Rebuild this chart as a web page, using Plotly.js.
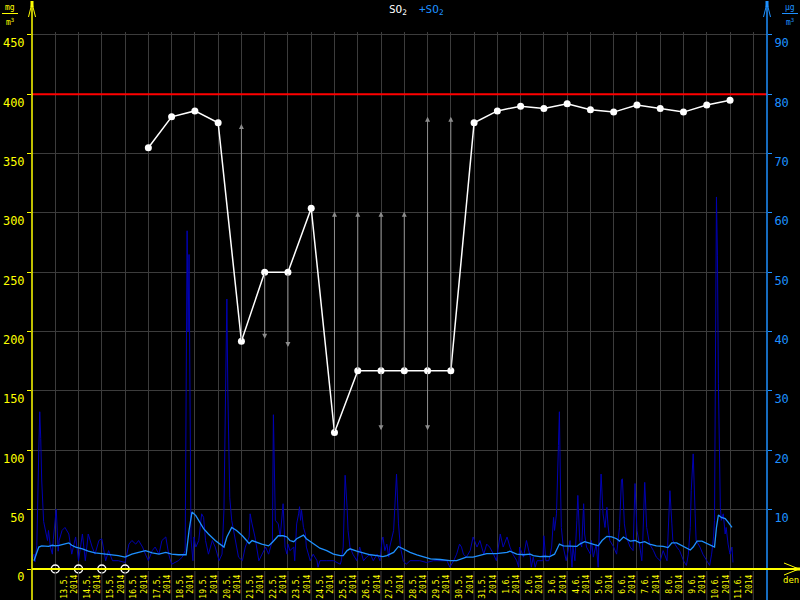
<!DOCTYPE html>
<html><head><meta charset="utf-8">
<script src="https://cdn.plot.ly/plotly-3.0.1.min.js"></script>
<style>body{margin:0;background:#000}</style>
</head><body><div id="chart" style="width:800px;height:600px"></div>
<script>
// ---- data ----
const dayDates = ['2014-05-13','2014-05-14','2014-05-15','2014-05-16','2014-05-17','2014-05-18','2014-05-19','2014-05-20','2014-05-21','2014-05-22','2014-05-23','2014-05-24','2014-05-25','2014-05-26','2014-05-27','2014-05-28','2014-05-29','2014-05-30','2014-05-31','2014-06-01','2014-06-02','2014-06-03','2014-06-04','2014-06-05','2014-06-06','2014-06-07','2014-06-08','2014-06-09','2014-06-10','2014-06-11'];
const dayLabels = ['13.5.','14.5.','15.5.','16.5.','17.5.','18.5.','19.5.','20.5.','21.5.','22.5.','23.5.','24.5.','25.5.','26.5.','27.5.','28.5.','29.5.','30.5.','31.5.','1.6.','2.6.','3.6.','4.6.','5.6.','6.6.','7.6.','8.6.','9.6.','10.6.','11.6.'];
const yearLabel = '2014';
const so2Daily = [null,null,null,null,355,381,386,376,192,250,250,304,115,167,167,167,167,167,376,386,390,388,392,387,385,391,388,385,391,395];
const so2High  = [null,null,null,null,null,null,null,null,375,null,null,null,301,301,301,301,381,381,null,null,null,null,null,null,null,null,null,null,null,null];
const so2Low   = [null,null,null,null,null,null,null,null,null,194,187,null,null,null,117,null,117,null,null,null,null,null,null,null,null,null,null,null,null,null];
const limitValue = 400;
const leftTicks = [0,50,100,150,200,250,300,350,400,450];
const rightTicks = [10,20,30,40,50,60,70,80,90];

// hourly SO2 (µg/m3), hours since 2014-05-12 00:00
const hourlyH = [0,2,3,5,7,8,9,10,12,14,16,17,19,21,22,25,27,28,31,34,38,41,45,48,52,55,58,62,65,69,72,76,79,83,89,96,100,103,107,110,114,117,120,124,127,131,134,138,141,144,148,151,155,158,160,161,162,163,164,166,167,169,172,175,177,179,182,186,189,193,196,198,200,201,202,204,206,210,213,217,220,224,225,227,230,234,237,241,244,248,249,251,254,256,259,261,263,264,266,270,271,273,275,276,277,278,280,282,283,285,287,290,294,295,297,304,311,318,319,321,323,325,326,328,331,335,338,342,345,349,352,356,359,361,362,364,366,368,369,373,374,376,378,380,383,386,390,400,407,414,421,428,431,435,438,441,443,445,448,452,455,459,462,466,469,472,476,479,483,486,490,493,496,500,502,503,507,510,514,515,517,519,521,524,527,528,530,533,534,536,538,539,541,543,544,545,546,548,551,555,557,558,560,562,563,565,567,569,570,572,576,577,579,582,584,586,587,589,591,593,594,596,600,603,606,608,609,611,613,617,620,622,624,627,629,630,632,634,637,641,644,648,651,655,658,660,661,665,668,672,675,677,679,680,682,684,685,689,692,696,699,701,703,704,705,706,707,708,710,711,713,715,716,718,720,722,723];
const hourlyV = [1.5,2.5,1.2,4,20,26.5,22,15,8,6.5,4.8,6.5,3.7,2.5,5,10.1,3,4.8,6.5,7,5.9,2.5,5.4,1.4,5.9,1.4,5.9,3.7,2.5,4.8,5.1,1.4,3.1,1.4,1.4,1.1,4.2,4.8,4.2,4.8,3.7,2.5,1.4,3.1,3.7,2.5,4.8,5.4,2.5,0.8,1.1,1.4,2.0,3.1,57,40,53,20,5,1.4,5.4,3.7,4.8,9.3,8.7,4.8,2.5,4.8,3.7,1.4,2.5,10,30,45.5,30,12,8.2,4.8,2.0,1.4,3.7,5.4,9.3,7.6,5.4,1.4,2.5,3.7,2.5,4.8,26,8.2,7.6,5.4,11,3.7,2.5,4.2,3.1,3.7,1.4,7.6,9.3,10.5,8.2,9.9,7.0,5.9,3.7,2.5,1.4,2.5,1.4,0.3,1.4,1.4,1.4,0.8,1.4,3.7,15.8,10.4,6.5,3.7,2.5,1.4,3.7,1.4,2.0,2.5,1.4,2.5,1.4,4.8,5.4,3.1,4.2,2.0,3.7,6.5,10.4,16,7.6,3.7,1.4,0.8,1.4,1.4,1.1,1.4,1.4,1.4,0.3,1.4,2.5,4.2,3.7,2.5,2.0,3.1,5.4,3.7,4.8,2.5,4.2,3.7,2.5,1.4,5.9,3.7,5.4,3.7,2.5,1.4,0.3,3.7,2.0,4.8,2.0,0.3,2.0,0.3,1.4,1.4,1.4,5.6,1.4,1.4,2.0,3.7,8.7,6.5,9.3,20.8,26.5,15,7,3.7,1.4,4.8,0.3,3.7,1.4,8.2,12.4,4.8,3.7,11,5.9,3.7,2.5,4.8,2.0,4.2,0.3,11.5,16,9.3,7.0,10.4,7.6,4.8,3.7,2.5,7.0,15,15.2,7.6,5.4,3.7,3.1,14.4,6.5,3.7,1.4,4.8,14.6,7,4.2,3.1,2.0,1.4,3.1,1.4,13.2,7.6,4.8,3.7,3.1,1.4,0.6,2.5,7,13.2,19.4,9.3,4.8,3.7,2.5,1.4,0.6,2.5,5.4,8.2,36.4,62.7,52.9,31.3,10.4,8.2,9.3,5.9,7,4.2,2.5,3.7,1.1];

// moving mean SO2 (µg/m3)
const meanH = [2,7,10,17,21,24,28,31,34,38,41,45,52,58,65,72,79,89,96,103,110,117,124,131,138,144,151,159,162,165,169,172,177,182,189,198,201,206,211,217,224,227,230,237,244,248,254,259,263,266,270,273,280,283,290,297,304,311,318,321,325,328,335,342,349,356,362,366,373,378,383,390,397,404,411,421,431,438,443,448,455,462,469,479,490,493,500,507,514,517,524,529,534,539,544,548,555,562,565,570,576,581,584,588,593,598,603,606,610,613,617,622,627,632,637,644,651,656,660,665,672,679,682,686,691,696,701,704,706,708,711,715,718,722];
const meanV = [1.4,3.7,3.9,3.8,4.0,3.9,4.0,4.1,4.3,4.4,4.0,3.7,3.4,3.0,2.7,2.6,2.5,2.25,2.0,2.5,2.8,3.1,2.7,2.5,2.8,2.5,2.4,2.4,6.5,9.6,9.0,8.2,6.8,5.9,4.8,3.7,5.4,7.0,6.5,5.6,4.3,4.8,4.6,4.2,3.9,4.5,5.6,5.6,5.4,4.8,4.6,5.1,5.7,5.1,4.3,3.5,3.1,2.5,2.25,2.25,3.1,3.4,3.0,2.65,2.4,2.25,2.1,2.25,2.8,3.8,3.4,2.8,2.4,2.0,1.7,1.6,1.4,1.4,1.7,2.0,2.0,2.25,2.6,2.6,2.8,3.0,2.5,2.4,2.5,2.25,2.1,2.15,2.1,2.5,4.2,3.9,3.8,3.8,4.2,4.6,4.3,4.1,3.9,4.8,5.5,5.4,5.1,4.7,5.4,5.1,4.7,4.8,4.4,4.6,4.2,3.9,3.8,3.6,4.4,4.4,3.8,3.2,3.7,4.7,4.7,4.3,3.9,3.7,7.0,9.1,8.7,8.5,7.9,7.0];

// ---- helpers ----
const YEL = '#ffff00', BLU = '#1e90ff', DBLU = '#0000b4', GRID = '#3c3c3c', GRAY = '#8c8c8c';
const L = 32, R = 767, T = 32, B = 569, W = R - L, H = B - T;
const pX = p => (p - L) / W;
const pY = p => (B - p) / H;
const base = Date.UTC(2014, 4, 12);
const hDate = h => new Date(base + Math.round(h * 3600000)).toISOString().slice(0, 19).replace('T', ' ');

const tickVals = dayDates.concat(['2014-06-12']);
const tickText = dayLabels.map(d => d + '<br>' + yearLabel).concat([' ']);

const missing = dayDates.filter((d, i) => so2Daily[i] === null);

const traces = [
  {x: hourlyH.map(hDate), y: hourlyV, yaxis: 'y', mode: 'lines', line: {color: DBLU, width: 1}, hoverinfo: 'skip'},
  {x: meanH.map(hDate), y: meanV, yaxis: 'y', mode: 'lines', line: {color: BLU, width: 1.3}, hoverinfo: 'skip'},
  {x: dayDates, y: so2Daily, yaxis: 'y2', mode: 'lines+markers', connectgaps: false,
   line: {color: '#ffffff', width: 1.5}, marker: {color: '#ffffff', size: 7}, cliponaxis: false},
  {x: missing, y: missing.map(() => 0),
   yaxis: 'y2', mode: 'markers', marker: {symbol: 'circle-open', color: '#ffffff', size: 8, line: {width: 1.5, color: '#ffffff'}}, cliponaxis: false}
];

const shapes = [];
const ln = (x0, y0, x1, y1, color, width) => shapes.push({type: 'line', xref: 'paper', yref: 'paper', x0: pX(x0), y0: pY(y0), x1: pX(x1), y1: pY(y1), line: {color, width}});
// limit line
shapes.push({type: 'line', xref: 'paper', yref: 'y2', x0: 0, x1: 1, y0: limitValue, y1: limitValue, line: {color: '#ff0000', width: 2}});
// gridline extensions below the axis
tickVals.forEach(d => shapes.push({type: 'line', xref: 'x', yref: 'paper', x0: d, x1: d, y0: pY(571), y1: pY(600), line: {color: GRID, width: 1}}));
// left axis + arrow
ln(32, 1, 32, 600, YEL, 1.5);
ln(28.5, 17, 32, 3, YEL, 1);
ln(35.5, 17, 32, 3, YEL, 1);
ln(32, 1, 32, 7, YEL, 3);
// right axis + arrow
ln(767, 1, 767, 600, BLU, 1.5);
ln(763.5, 17, 767, 3, BLU, 1);
ln(770.5, 17, 767, 3, BLU, 1);
ln(767, 1, 767, 7, BLU, 3);
// bottom axis + arrow
ln(32, 569, 800, 569, YEL, 2);
ln(784, 563, 799, 569, YEL, 1);
ln(784, 575, 799, 569, YEL, 1);
ln(794, 569, 800, 569, YEL, 3);
// unit fraction bars
ln(2, 13.5, 18, 13.5, YEL, 1);
ln(782, 13.5, 798, 13.5, BLU, 1);

const annotations = [];
const txt = (x, y, text, color, size, xanchor) => annotations.push({xref: 'paper', yref: 'paper', x: pX(x), y: pY(y), text, showarrow: false,
  font: {family: 'DejaVu Sans Mono', size, color}, xanchor: xanchor || 'center', yanchor: 'middle', borderpad: 0});
txt(408, 10, 'SO<sub>2</sub>', '#ffffff', 11, 'right');
txt(418, 10, '+SO<sub>2</sub>', BLU, 11, 'left');
txt(10, 7, 'mg', YEL, 8);
txt(10, 22, 'm<sup>3</sup>', YEL, 8);
txt(790, 7, 'µg', BLU, 8);
txt(790, 22, 'm<sup>3</sup>', BLU, 8);
txt(791, 580, 'den', YEL, 9);
// range arrows
dayDates.forEach((d, i) => {
  [so2High[i], so2Low[i]].forEach(v => {
    if (v !== null && so2Daily[i] !== null) {
      annotations.push({x: d, y: v, ax: d, ay: so2Daily[i], xref: 'x', yref: 'y2', axref: 'x', ayref: 'y2', text: '',
        showarrow: true, arrowhead: 2, arrowsize: 1, arrowwidth: 1, arrowcolor: GRAY, standoff: 0, startstandoff: 0});
    }
  });
});

const layout = {
  width: 800, height: 600,
  paper_bgcolor: '#000', plot_bgcolor: '#000',
  margin: {l: L, r: 800 - R, t: T, b: 600 - B},
  showlegend: false, hovermode: false,
  xaxis: {type: 'date', range: ['2014-05-12 00:00', '2014-06-12 14:08'], tickmode: 'array', tickvals: tickVals, ticktext: tickText,
    tickangle: -90, tickfont: {family: 'DejaVu Sans Mono', size: 8, color: YEL}, showgrid: true, gridcolor: GRID, gridwidth: 1,
    zeroline: false, showline: false, ticks: '', ticklabelshift: 14, ticklabelstandoff: 3, automargin: false},
  yaxis: {side: 'right', range: [0, 90.5], tickmode: 'array', tickvals: rightTicks, showgrid: true, gridcolor: GRID, gridwidth: 1,
    zeroline: false, showline: false, ticks: 'outside', ticklen: 4, tickcolor: BLU, tickfont: {family: 'DejaVu Sans Mono', size: 12, color: BLU},
    ticklabelshift: 8, automargin: false},
  yaxis2: {overlaying: 'y', side: 'left', range: [0, 452.5], tickmode: 'array', tickvals: leftTicks, showgrid: false,
    zeroline: false, showline: false, ticks: 'outside', ticklen: 4, tickcolor: YEL, tickfont: {family: 'DejaVu Sans Mono', size: 12, color: YEL},
    ticklabelshift: 8, automargin: false},
  shapes, annotations
};

Plotly.newPlot('chart', traces, layout, {staticPlot: true, displayModeBar: false});
</script></body></html>
